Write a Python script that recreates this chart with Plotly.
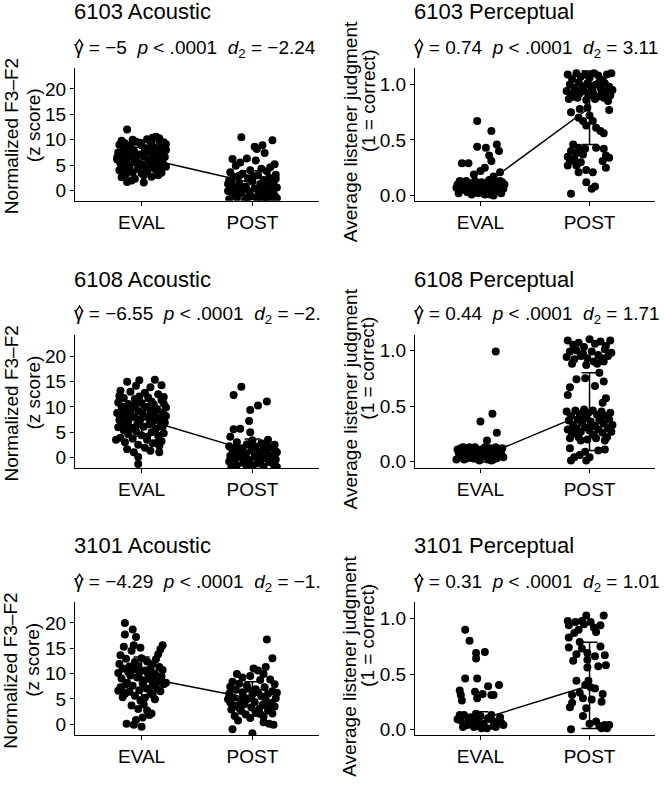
import plotly.graph_objects as go

# ---------------- data ----------------
panel_titles = ["6103 Acoustic", "6103 Perceptual", "6108 Acoustic",
                "6108 Perceptual", "3101 Acoustic", "3101 Perceptual"]
gamma_text = ["−5", "0.74", "−6.55", "0.44", "−4.29", "0.31"]
p_text = ["&lt; .0001"] * 6
d2_text = ["−2.24", "3.11", "−2.", "1.71", "−1.", "1.01"]
categories = ["EVAL", "POST"]

# group means (line) and SDs (error bars): [EVAL, POST]
means = [[6.5, 1.5], [0.07, 0.79], [7.7, 1.15], [0.04, 0.45], [9.3, 5.0], [0.09, 0.397]]
sds = [[2.0, 2.4], [0.06, 0.33], [3.5, 2.5], [0.04, 0.35], [3.95, 3.4], [0.07, 0.39]]

# points: (jitter offset in category units, value)
a1_eval = [(-0.13,12.0),(0.13,10.6),(0.16,10.3),(0.05,10.1),(-0.18,9.8),(0.20,9.5),(-0.05,9.6),(0.09,9.2),
 (-0.20,9.0),(0.00,8.9),(0.18,8.7),(-0.10,8.8),(0.12,8.4),(-0.16,8.2),(0.04,8.3),(0.22,8.0),(-0.07,7.9),
 (0.15,7.6),(-0.21,7.5),(0.07,7.7),(-0.12,7.3),(0.19,7.2),(-0.02,7.1),(0.10,6.9),(-0.17,6.8),(0.21,6.6),
 (0.02,6.7),(-0.09,6.4),(0.14,6.3),(-0.22,6.1),(0.06,6.0),(-0.14,5.9),(0.17,5.8),(-0.04,5.6),(0.11,5.4),
 (-0.19,5.3),(0.20,5.1),(0.00,5.2),(-0.11,4.9),(0.08,4.8),(0.16,4.5),(-0.16,4.6),(-0.03,4.3),(0.13,4.1),
 (-0.20,4.0),(0.05,3.8),(-0.08,3.6),(0.18,3.5),(-0.14,3.2),(0.02,3.0),(-0.18,2.6),(0.09,2.7),(-0.06,2.3),
 (-0.13,1.7),(0.02,1.6),(-0.09,2.0),(0.11,4.4),(-0.01,9.4),(0.07,9.9),(-0.15,9.3),(0.22,9.1),(0.03,7.4),
 (-0.20,7.0),(0.14,5.0),(-0.06,5.5),(0.19,6.2),(-0.11,8.5),(0.09,8.1),(-0.04,6.9),(0.12,7.9),(-0.17,5.7),
 (0.04,4.6),(0.22,4.7),(-0.22,6.5),(0.16,9.8),(-0.08,10.0),(0.10,10.4),(0.00,3.4),(-0.12,3.9),(0.15,3.0)]
a1_post = [(-0.10,10.5),(0.18,9.9),(0.02,8.6),(0.09,8.9),(0.11,7.4),(0.04,8.2),(-0.18,6.2),(-0.05,6.3),
 (0.03,5.9),(-0.11,5.5),(0.16,4.6),(0.20,5.2),(-0.15,4.9),(0.08,4.3),(-0.20,3.6),(-0.02,4.0),(0.13,3.8),
 (-0.09,3.3),(0.21,3.1),(0.05,3.0),(-0.17,2.7),(0.15,2.5),(-0.04,2.4),(0.10,2.1),(-0.21,2.0),(0.00,1.8),
 (0.19,1.6),(-0.12,1.5),(0.07,1.3),(-0.19,1.0),(0.14,0.9),(-0.06,0.8),(0.22,0.6),(0.02,0.4),(-0.15,0.3),
 (0.11,0.1),(-0.22,-0.1),(-0.03,-0.2),(0.17,-0.4),(-0.10,-0.5),(0.06,-0.7),(-0.18,-0.8),(0.20,-1.0),
 (-0.01,-1.1),(0.12,-1.3),(-0.14,-1.4),(0.04,-1.6),(-0.21,-1.7),(0.16,-1.8),(-0.07,-1.9),(0.09,-1.9),
 (0.22,-1.5),(-0.16,-0.2),(0.13,-0.8),(-0.08,0.5),(0.18,0.3),(-0.12,2.9),(0.01,2.8),(0.08,1.1),(-0.19,1.9),
 (0.21,2.3),(-0.04,-1.4),(0.15,1.8),(-0.13,0.7),(0.06,-0.3),(-0.22,1.3),(0.19,-0.6)]

b1_eval = [(-0.03,0.67),(0.10,0.58),(-0.03,0.44),(0.05,0.43),(0.15,0.46),(0.17,0.40),(0.08,0.36),(0.10,0.31),
 (-0.11,0.29),(-0.17,0.29),(0.00,0.22),(0.18,0.21),(0.04,0.25),(-0.06,0.19),(0.12,0.17),
 (-0.21,0.10),(-0.18,0.06),(-0.15,0.12),(-0.12,0.03),(-0.10,0.09),(-0.07,0.05),(-0.05,0.13),(-0.02,0.02),
 (0.00,0.08),(0.03,0.11),(0.05,0.04),(0.07,0.10),(0.09,0.01),(0.11,0.07),(0.13,0.12),(0.15,0.04),(0.17,0.09),
 (0.19,0.02),(0.21,0.06),(-0.20,0.02),(-0.16,0.08),(-0.13,0.13),(-0.08,0.01),(-0.04,0.07),(0.01,0.12),
 (0.06,0.06),(0.10,0.03),(0.14,0.08),(0.18,0.13),(0.22,0.10),(-0.22,0.07),(-0.09,0.11),(0.02,0.04),
 (0.12,0.00),(-0.14,0.05),(0.08,0.14),(-0.01,0.10),(0.20,0.12),(-0.19,0.13),(0.04,0.01)]
b1_post = [(-0.20,1.09),(-0.16,1.05),(-0.12,1.10),(-0.08,1.07),(-0.04,1.09),(0.00,1.06),(0.04,1.10),(0.08,1.08),
 (0.12,1.04),(0.16,1.09),(0.20,1.10),(-0.18,1.00),(-0.14,0.97),(-0.10,1.02),(-0.06,0.98),(-0.02,1.01),
 (0.02,0.96),(0.06,1.00),(0.10,0.97),(0.14,1.01),(0.18,0.98),(0.21,0.95),(-0.21,0.94),(-0.17,0.91),
 (-0.13,0.95),(-0.09,0.92),(-0.05,0.94),(-0.01,0.90),(0.03,0.93),(0.07,0.89),(0.11,0.92),(0.15,0.94),
 (0.19,0.90),(-0.19,0.87),(-0.11,0.88),(-0.03,0.86),(0.05,0.87),(0.13,0.88),(0.17,0.85),(-0.07,0.96),
 (0.09,1.02),(0.01,0.99),(-0.15,0.89),(0.18,0.77),
 (-0.17,0.75),(-0.09,0.78),(-0.02,0.79),(-0.10,0.70),(-0.06,0.67),(0.03,0.67),(-0.03,0.63),(0.06,0.61),
 (0.10,0.58),(0.13,0.56),(0.00,0.72),
 (-0.15,0.46),(-0.10,0.43),(-0.04,0.42),(0.06,0.43),(0.13,0.42),(0.15,0.36),(-0.20,0.35),(-0.14,0.33),
 (-0.08,0.30),(0.12,0.31),(-0.20,0.27),(-0.12,0.27),(-0.03,0.23),(0.15,0.25),(-0.10,0.21),(0.03,0.21),
 (-0.17,0.40),(-0.06,0.37),(-0.12,0.38),(0.18,0.34),(-0.18,0.31),
 (-0.03,0.12),(0.05,0.08),(0.02,0.06),(-0.17,0.015)]

a2_eval = [(-0.13,15.0),(-0.02,15.3),(0.12,15.4),(0.18,14.3),(-0.05,14.2),(0.08,13.9),(-0.20,12.2),(0.20,10.7),
 (-0.10,13.0),(0.03,12.8),(0.15,12.5),(-0.16,11.8),(-0.06,11.6),(0.06,11.9),(0.18,11.4),(-0.21,10.9),
 (-0.12,10.6),(0.00,10.8),(0.11,10.5),(0.22,9.9),(-0.18,10.1),(-0.08,9.8),(0.04,10.0),(0.14,9.6),(-0.14,9.4),
 (-0.03,9.2),(0.08,9.3),(0.19,8.9),(-0.22,8.8),(-0.10,8.6),(0.01,8.7),(0.12,8.4),(0.22,8.2),(-0.17,8.1),
 (-0.06,7.9),(0.06,8.0),(0.16,7.6),(-0.20,7.4),(-0.12,7.2),(-0.01,7.5),(0.10,7.1),(0.21,6.9),(-0.15,6.7),
 (-0.04,6.5),(0.07,6.6),(0.17,6.3),(-0.21,6.0),(-0.09,5.9),(0.02,6.1),(0.13,5.7),(-0.16,5.4),(-0.05,5.2),
 (0.09,5.0),(0.20,4.8),(-0.12,4.6),(0.00,4.4),(0.15,4.3),(-0.19,3.9),(-0.08,3.7),(0.05,3.5),(0.18,3.2),
 (-0.23,3.5),(-0.15,3.0),(0.10,2.8),(-0.03,2.5),(0.16,2.3),(-0.13,1.6),(0.03,1.9),(-0.07,1.0),(0.16,1.0),
 (0.08,1.3),(-0.03,0.1),(-0.03,-1.3),(0.14,2.9),(-0.11,8.3),(0.09,11.1),(-0.02,12.1),(0.13,7.8),(-0.18,9.1),
 (0.05,4.1),(-0.14,5.6),(0.19,6.1),(-0.06,10.3),(0.11,9.0),(0.20,12.0),(-0.19,13.2)]
a2_post = [(-0.10,14.0),(-0.17,12.4),(0.13,11.1),(0.05,10.3),(-0.02,9.4),(-0.03,7.2),(-0.17,5.6),(-0.11,5.7),
 (-0.02,5.0),(-0.20,4.1),(0.00,3.4),(0.14,3.5),(-0.14,3.0),(0.08,2.8),(-0.05,2.6),(0.20,2.5),(-0.21,2.2),
 (0.03,2.1),(0.16,1.9),(-0.09,1.8),(0.10,1.6),(-0.18,1.4),(-0.01,1.3),(0.21,1.2),(0.06,1.0),(-0.13,0.9),
 (0.13,0.7),(-0.06,0.6),(0.18,0.4),(-0.20,0.3),(0.02,0.2),(-0.10,0.0),(0.11,-0.1),(-0.16,-0.3),(0.21,-0.4),
 (-0.03,-0.5),(0.07,-0.7),(-0.21,-0.8),(0.15,-0.9),(-0.08,-1.1),(0.04,-1.2),(0.19,-1.4),(-0.14,-1.5),
 (0.00,-1.7),(0.10,-1.8),(-0.19,-1.8),(0.22,-1.9),(-0.05,-1.9),(0.16,0.1),(-0.12,1.5),(0.08,-0.2),
 (-0.02,2.4),(0.13,2.3),(-0.17,0.7),(0.05,0.5),(0.19,-0.9),(-0.07,-0.6),(0.22,1.0),(0.11,1.4),(-0.15,2.0)]

b2_eval = [(0.14,0.99),(0.11,0.43),(0.00,0.36),(0.15,0.26),(0.06,0.19),
 (-0.21,0.11),(-0.19,0.05),(-0.17,0.09),(-0.15,0.02),(-0.13,0.12),(-0.11,0.06),(-0.09,0.10),(-0.07,0.03),
 (-0.05,0.13),(-0.03,0.07),(-0.01,0.01),(0.01,0.11),(0.03,0.05),(0.05,0.09),(0.07,0.02),(0.09,0.12),
 (0.11,0.06),(0.13,0.10),(0.15,0.03),(0.17,0.11),(0.19,0.07),(0.21,0.04),(-0.20,0.08),(-0.16,0.13),
 (-0.12,0.03),(-0.08,0.07),(-0.04,0.11),(0.00,0.04),(0.04,0.13),(0.08,0.08),(0.12,0.02),(0.16,0.06),
 (0.20,0.12),(-0.22,0.02),(-0.14,0.08),(-0.06,0.05),(0.02,0.09),(0.10,0.01),(0.18,0.09),(-0.10,0.13),
 (0.06,0.12),(-0.18,0.12),(0.14,0.13)]
b2_post = [(-0.20,1.09),(-0.15,1.05),(-0.10,1.07),(-0.05,1.03),(0.00,1.10),(0.05,1.06),(0.10,1.08),(0.15,1.04),
 (0.19,1.09),(-0.18,0.99),(-0.12,1.00),(-0.06,0.97),(0.02,0.99),(0.08,0.96),(0.14,1.01),(0.20,0.98),
 (-0.21,0.94),(-0.14,0.92),(-0.08,0.95),(-0.02,0.93),(0.04,0.90),(0.11,0.93),(0.17,0.95),(-0.16,0.88),
 (-0.03,0.87),(0.07,0.88),(0.13,0.90),
 (-0.12,0.74),(-0.18,0.67),(-0.04,0.75),(0.09,0.80),(0.13,0.72),(0.05,0.68),(0.15,0.57),(0.12,0.53),(-0.20,0.60),
 (-0.21,0.45),(-0.17,0.41),(-0.13,0.46),(-0.09,0.43),(-0.05,0.47),(-0.01,0.44),(0.03,0.46),(0.07,0.42),
 (0.11,0.45),(0.15,0.41),(0.19,0.44),(-0.19,0.37),(-0.15,0.33),(-0.11,0.38),(-0.07,0.35),(-0.03,0.39),
 (0.01,0.36),(0.05,0.32),(0.09,0.37),(0.13,0.34),(0.17,0.30),(0.21,0.33),(-0.20,0.29),(-0.16,0.25),
 (-0.12,0.30),(-0.08,0.27),(-0.04,0.31),(0.00,0.28),(0.04,0.24),(0.08,0.29),(0.12,0.26),(0.16,0.22),
 (0.20,0.27),(-0.18,0.21),(-0.10,0.22),(-0.02,0.20),(0.06,0.21),(0.14,0.19),(-0.06,0.40),(0.10,0.39),
 (-0.14,0.28),(0.18,0.38),(0.02,0.33),(-0.08,0.19),
 (-0.18,0.12),(-0.14,0.04),(-0.09,0.06),(-0.04,0.09),(0.08,0.10),(0.14,0.11),(-0.17,0.01),(-0.03,0.01),(0.00,0.04)]

a3_eval = [(-0.15,20.0),(-0.08,18.7),(-0.15,17.7),(-0.05,17.2),(-0.16,15.3),(-0.07,15.6),(-0.01,15.1),
 (-0.09,14.5),(0.19,15.6),(0.17,14.8),(0.15,13.8),(0.13,12.8),(0.10,11.9),(0.08,11.0),(-0.19,13.6),
 (-0.14,12.9),(-0.20,11.9),(-0.17,11.0),(-0.12,10.3),(-0.21,10.1),(-0.06,12.3),(0.00,13.0),(-0.03,11.5),
 (0.05,12.4),(0.03,10.6),(-0.10,9.6),(0.12,10.0),(0.18,9.4),(-0.18,9.0),(-0.04,9.2),(0.07,8.9),(0.15,8.5),
 (-0.13,8.2),(0.01,8.1),(0.10,7.7),(0.20,7.9),(-0.08,7.6),(-0.19,7.3),(0.04,7.1),(0.14,7.0),(-0.02,6.7),
 (-0.21,6.6),(-0.11,6.4),(0.08,6.2),(-0.15,6.0),(0.17,6.5),(-0.17,5.3),(-0.06,5.6),(0.03,5.2),(0.12,4.9),
 (-0.01,4.6),(-0.09,3.7),(-0.03,3.0),(0.05,2.7),(0.09,2.1),(0.02,3.9),(-0.05,0.8),(0.01,1.3),(0.07,1.8),
 (-0.135,0.1),(-0.07,-0.1),(0.00,-0.5),(0.11,8.8),(-0.07,10.8),(0.06,9.8),(-0.14,7.9),(0.16,11.3),
 (0.22,8.2),(-0.11,11.4),(0.02,8.6),(0.10,5.8),(-0.02,10.2),(0.19,10.7),(-0.18,6.9)]
a3_post = [(0.13,16.7),(0.18,13.0),(0.12,11.3),(0.01,11.0),(0.10,9.9),(-0.14,9.9),(-0.09,9.2),(-0.18,8.4),
 (0.05,10.6),(-0.02,9.5),(0.16,8.8),(0.07,8.7),(-0.12,8.0),(0.20,7.9),(-0.20,7.4),(-0.05,7.6),(0.11,7.3),
 (-0.15,6.8),(0.03,6.9),(0.18,6.5),(-0.09,6.3),(0.14,6.0),(-0.21,6.0),(0.00,5.8),(0.08,5.5),(-0.17,5.2),
 (-0.04,5.0),(0.21,5.1),(0.12,4.7),(-0.11,4.6),(-0.20,4.3),(0.02,4.4),(0.17,4.2),(-0.07,4.0),(0.09,3.8),
 (-0.15,3.6),(0.20,3.5),(-0.01,3.3),(0.06,3.0),(-0.19,2.9),(0.14,2.7),(-0.10,2.6),(0.03,2.3),(0.18,2.1),
 (-0.06,1.9),(-0.16,1.6),(0.10,1.5),(-0.02,1.2),(-0.13,0.7),(0.10,0.4),(0.15,0.1),(0.19,-0.1),(-0.18,-1.0),
 (0.00,-1.8),(-0.08,5.4),(0.05,6.3),(-0.12,3.2),(0.15,3.3),(0.07,2.0),(-0.04,7.0),(0.22,6.2),(-0.22,4.9)]

b3_eval = [(-0.14,0.90),(-0.10,0.80),(-0.04,0.69),(-0.04,0.64),(0.04,0.70),(-0.14,0.46),(-0.03,0.46),
 (-0.19,0.35),(0.07,0.39),(0.17,0.40),(-0.05,0.34),(0.02,0.32),(0.10,0.31),(0.12,0.31),(-0.18,0.31),
 (-0.17,0.26),(-0.03,0.28),
 (-0.21,0.09),(-0.18,0.08),(-0.15,0.13),(-0.12,0.04),(-0.09,0.11),(-0.06,0.02),(-0.03,0.08),(0.00,0.12),
 (0.03,0.05),(0.06,0.01),(0.09,0.09),(0.12,0.03),(0.15,0.07),(0.18,0.11),(0.21,0.04),(-0.16,0.02),
 (-0.07,0.06),(0.01,0.01),(0.07,0.10),(0.14,0.02),(-0.11,0.08),(0.19,0.06),(-0.01,0.03),(-0.19,0.13),
 (0.10,0.13),(-0.04,0.14)]
b3_post = [(-0.20,0.98),(-0.19,0.94),(-0.13,0.97),(-0.07,0.98),(-0.03,1.03),(-0.05,0.95),(0.01,0.97),
 (0.13,1.03),(0.04,0.92),(-0.14,0.87),(-0.19,0.83),(-0.09,0.79),(0.10,0.75),(-0.19,0.74),(-0.07,0.73),
 (-0.12,0.68),(-0.02,0.69),(0.05,0.66),(0.14,0.67),(-0.02,0.63),(0.08,0.57),(0.15,0.58),(-0.02,0.56),
 (-0.12,0.44),(-0.01,0.44),(-0.04,0.40),(0.01,0.38),(0.05,0.37),(-0.16,0.31),(-0.06,0.28),(0.02,0.27),
 (0.11,0.25),(-0.16,0.24),(-0.03,0.19),(-0.06,0.12),(-0.17,0.00),(0.06,0.07),(0.09,0.03),(0.14,0.04),
 (0.18,0.04),(0.00,0.05),(0.11,0.01),(0.16,0.01),(-0.10,0.90),(0.06,0.88),(0.10,0.94),(-0.15,0.62),
 (-0.09,0.33),(0.12,0.32),(-0.18,0.20)]

points = [(a1_eval, a1_post), (b1_eval, b1_post), (a2_eval, a2_post),
          (b2_eval, b2_post), (a3_eval, a3_post), (b3_eval, b3_post)]

y_ranges = [[-2.0, 24.2], [-0.047, 1.152], [-2.1, 24.3], [-0.057, 1.14], [-2.2, 24.1], [-0.054, 1.15]]
acoustic_ticks = [0, 5, 10, 15, 20]
perceptual_ticks = [0.0, 0.5, 1.0]
perceptual_ticktext = ["0.0", "0.5", "1.0"]
ylab_acoustic = ["Normalized F3–F2", "(z score)"]
ylab_perceptual = ["Average listener judgment", "(1 = correct)"]

# ---------------- layout geometry (pixels) ----------------
W, H = 664, 786
col_px = [(75, 319), (415, 655)]
row_px = [(68, 202), (337, 471), (606, 740)]
title_y = [12, 281, 549]
sub_y = [49, 317, 587]
FONT = "Liberation Sans, Arial, sans-serif"

fig = go.Figure()
annotations = []
shapes = []
layout_axes = {}

for i in range(6):
    r, c = divmod(i, 2)
    ax = "" if i == 0 else str(i + 1)
    xa, ya = "x" + ax, "y" + ax
    ev, po = points[i]
    # mean line + SD error bars
    fig.add_trace(go.Scatter(
        x=[1, 2], y=means[i], mode="lines", xaxis=xa, yaxis=ya,
        line=dict(color="black", width=1.5),
        error_y=dict(type="data", array=sds[i], visible=True, color="black",
                     thickness=1.5, width=8),
        showlegend=False, hoverinfo="skip"))
    xs = [1 + j for j, _ in ev] + [2 + j for j, _ in po]
    ys = [v for _, v in ev] + [v for _, v in po]
    fig.add_trace(go.Scatter(
        x=xs, y=ys, mode="markers", xaxis=xa, yaxis=ya,
        marker=dict(color="black", size=8, line=dict(width=0)),
        showlegend=False))

    x0, x1 = col_px[c]
    y0, y1 = row_px[r]
    axis_common = dict(showline=True, linecolor="black", linewidth=1.1, ticks="outside",
                       ticklen=4, tickcolor="black", tickwidth=1.1, showgrid=False,
                       zeroline=False, tickfont=dict(family=FONT, size=19, color="black"))
    layout_axes["xaxis" + ax] = dict(axis_common, domain=[x0 / W, x1 / W], range=[0.4, 2.6],
                                     tickvals=[1, 2], ticktext=categories, anchor=ya)
    if c == 0:
        yt = dict(tickvals=acoustic_ticks, ticktext=[str(t) for t in acoustic_ticks])
        lab = ylab_acoustic
        lab_x = (11, 33)
        lab_dy = (2, -9)
    else:
        yt = dict(tickvals=perceptual_ticks, ticktext=perceptual_ticktext)
        lab = ylab_perceptual
        lab_x = (350, 368)
        lab_dy = (-2, -33)
    layout_axes["yaxis" + ax] = dict(axis_common, domain=[1 - y1 / H, 1 - y0 / H],
                                     range=y_ranges[i], anchor=xa, **yt)

    # panel title and statistic subtitle
    annotations.append(dict(text=panel_titles[i], x=(x0 - 3) / W, y=1 - title_y[r] / H,
                            xref="paper", yref="paper", xanchor="left", yanchor="middle",
                            showarrow=False, font=dict(family=FONT, size=22, color="black")))
    sub = ("γ = " + gamma_text[i] + "\u00a0 <i>p</i> " + p_text[i] +
           "\u00a0 <i>d</i><sub>2</sub> = " + d2_text[i])
    annotations.append(dict(text=sub, x=(x0 - 3) / W, y=1 - sub_y[r] / H,
                            xref="paper", yref="paper", xanchor="left", yanchor="middle",
                            showarrow=False, font=dict(family=FONT, size=19, color="black")))
    # hat over gamma (drawn as a small caret)
    hy = sub_y[r] - 6
    shapes.append(dict(type="path", xref="paper", yref="paper",
                       path="M {:.5f} {:.5f} L {:.5f} {:.5f} L {:.5f} {:.5f}".format(
                           (x0 + 1) / W, 1 - (hy + 2.5) / H,
                           (x0 + 4.5) / W, 1 - (hy - 3) / H,
                           (x0 + 8) / W, 1 - (hy + 2.5) / H),
                       line=dict(color="black", width=1.3)))
    ymid = (y0 + y1) / 2
    for k in range(2):
        annotations.append(dict(text=lab[k], x=lab_x[k] / W, y=1 - (ymid + lab_dy[k]) / H,
                                xref="paper", yref="paper", xanchor="center", yanchor="middle",
                                textangle=-90, showarrow=False,
                                font=dict(family=FONT, size=19, color="black")))

fig.update_layout(width=W, height=H, margin=dict(l=0, r=0, t=0, b=0),
                  paper_bgcolor="white", plot_bgcolor="white",
                  annotations=annotations, shapes=shapes, **layout_axes)
fig.write_html("out.html", config={"displayModeBar": False},
               post_script="document.body.style.margin='0';document.body.style.overflow='hidden';")
